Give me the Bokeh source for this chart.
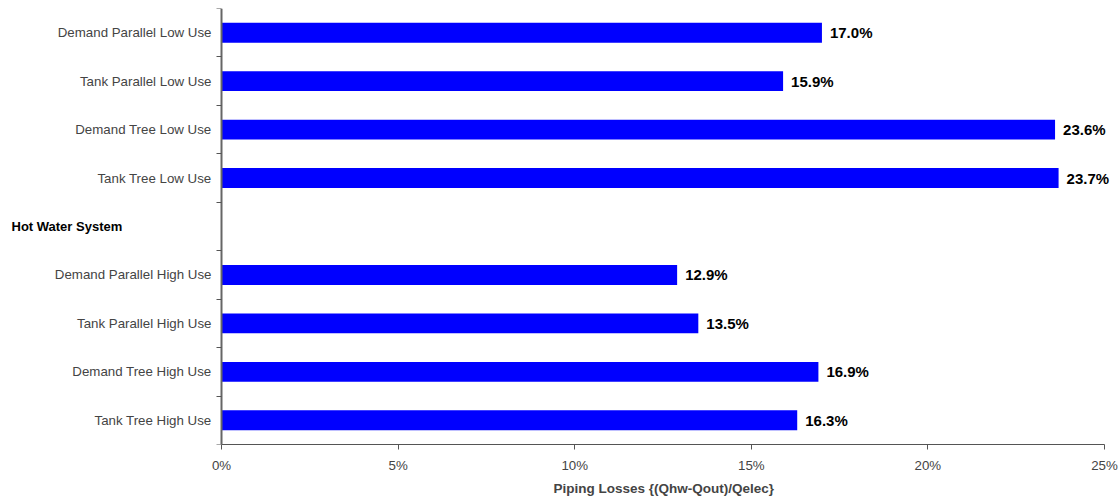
from bokeh.plotting import figure
from bokeh.models import ColumnDataSource, FixedTicker, PrintfTickFormatter, Title
from bokeh.core.properties import value
from bokeh.embed import file_html
from bokeh.resources import INLINE

# Categories top to bottom ("" = empty slot holding the group title)
categories = [
    "Demand Parallel Low Use",
    "Tank Parallel Low Use",
    "Demand Tree Low Use",
    "Tank Tree Low Use",
    "",
    "Demand Parallel High Use",
    "Tank Parallel High Use",
    "Demand Tree High Use",
    "Tank Tree High Use",
]
values = [17.0, 15.9, 23.6, 23.7, None, 12.9, 13.5, 16.9, 16.3]
group_title = "Hot Water System"
x_ticks = [0, 5, 10, 15, 20, 25]
x_title = "Piping Losses {(Qhw-Qout)/Qelec}"

n = len(categories)
ys = [n - i - 0.5 for i in range(n)]
bar_y = [y for y, v in zip(ys, values) if v is not None]
bar_v = [v for v in values if v is not None]
src = ColumnDataSource(dict(y=bar_y, v=bar_v, lab=["%.1f%%" % v for v in bar_v]))

FONT = "Liberation Sans"

# layout geometry (pixels): plot area from 221 to 1104 in a 1118 wide canvas
W, H = 1118, 498
AX_L, AX_R = 221, 1104
xmax = x_ticks[-1]
px_per_unit = (AX_R - AX_L) / xmax
x_start = -AX_L / px_per_unit
x_end = xmax + (W - AX_R) / px_per_unit

p = figure(width=W, height=H, x_range=(x_start, x_end), y_range=(0, n),
           output_backend="svg", toolbar_location=None,
           min_border_left=0, min_border_right=0, min_border_top=8,
           min_border_bottom=0)
p.outline_line_color = None
p.grid.visible = False

p.hbar(y="y", right="v", left=0, height=0.41, source=src,
       fill_color="#0000FF", line_color=None)
p.text(x="v", y="y", text="lab", source=src, x_offset=8,
       text_font=value(FONT), text_font_style="bold", text_font_size="15px",
       text_baseline="middle", text_align="left", text_color="#000000")

# x axis
xa = p.xaxis[0]
xa.ticker = FixedTicker(ticks=x_ticks)
xa.bounds = (0, xmax)
xa.formatter = PrintfTickFormatter(format="%d%%")
xa.major_label_text_font = FONT
xa.major_label_text_font_size = "13.3px"
xa.major_label_standoff = 8
xa.major_tick_in = 0
xa.major_tick_out = 5
xa.minor_tick_out = 0
xa.minor_tick_in = 0
xa.axis_line_color = "#555555"
xa.major_tick_line_color = "#555555"

# x axis title, centred under the 0..25 span
p.add_layout(Title(text=x_title, align="left", offset=AX_L + 332,
                   text_font=FONT, text_font_style="bold",
                   text_font_size="13.5px", standoff=6), "below")

# y axis, pinned at x = 0
ya = p.yaxis[0]
ya.fixed_location = 0
ya.ticker = FixedTicker(ticks=ys, minor_ticks=list(range(n + 1)))
ya.major_label_overrides = {y: c for y, c in zip(ys, categories)}
ya.major_label_text_font = FONT
ya.major_label_text_font_size = "13.3px"
ya.major_label_standoff = 5
ya.major_tick_in = 0
ya.major_tick_out = 0
ya.minor_tick_in = 0
ya.minor_tick_out = 5
ya.axis_line_color = "#666666"
ya.axis_line_width = 2
ya.minor_tick_line_color = "#555555"

# group title in the empty slot, left aligned near the left edge
title_y = ys[categories.index("")]
p.text(x=[x_start + 11 / px_per_unit], y=[title_y], text=[group_title],
       text_font=value(FONT), text_font_style="bold", text_font_size="13px",
       text_baseline="middle", text_align="left", text_color="#000000")

open("out.html", "w").write(file_html(p, INLINE))
